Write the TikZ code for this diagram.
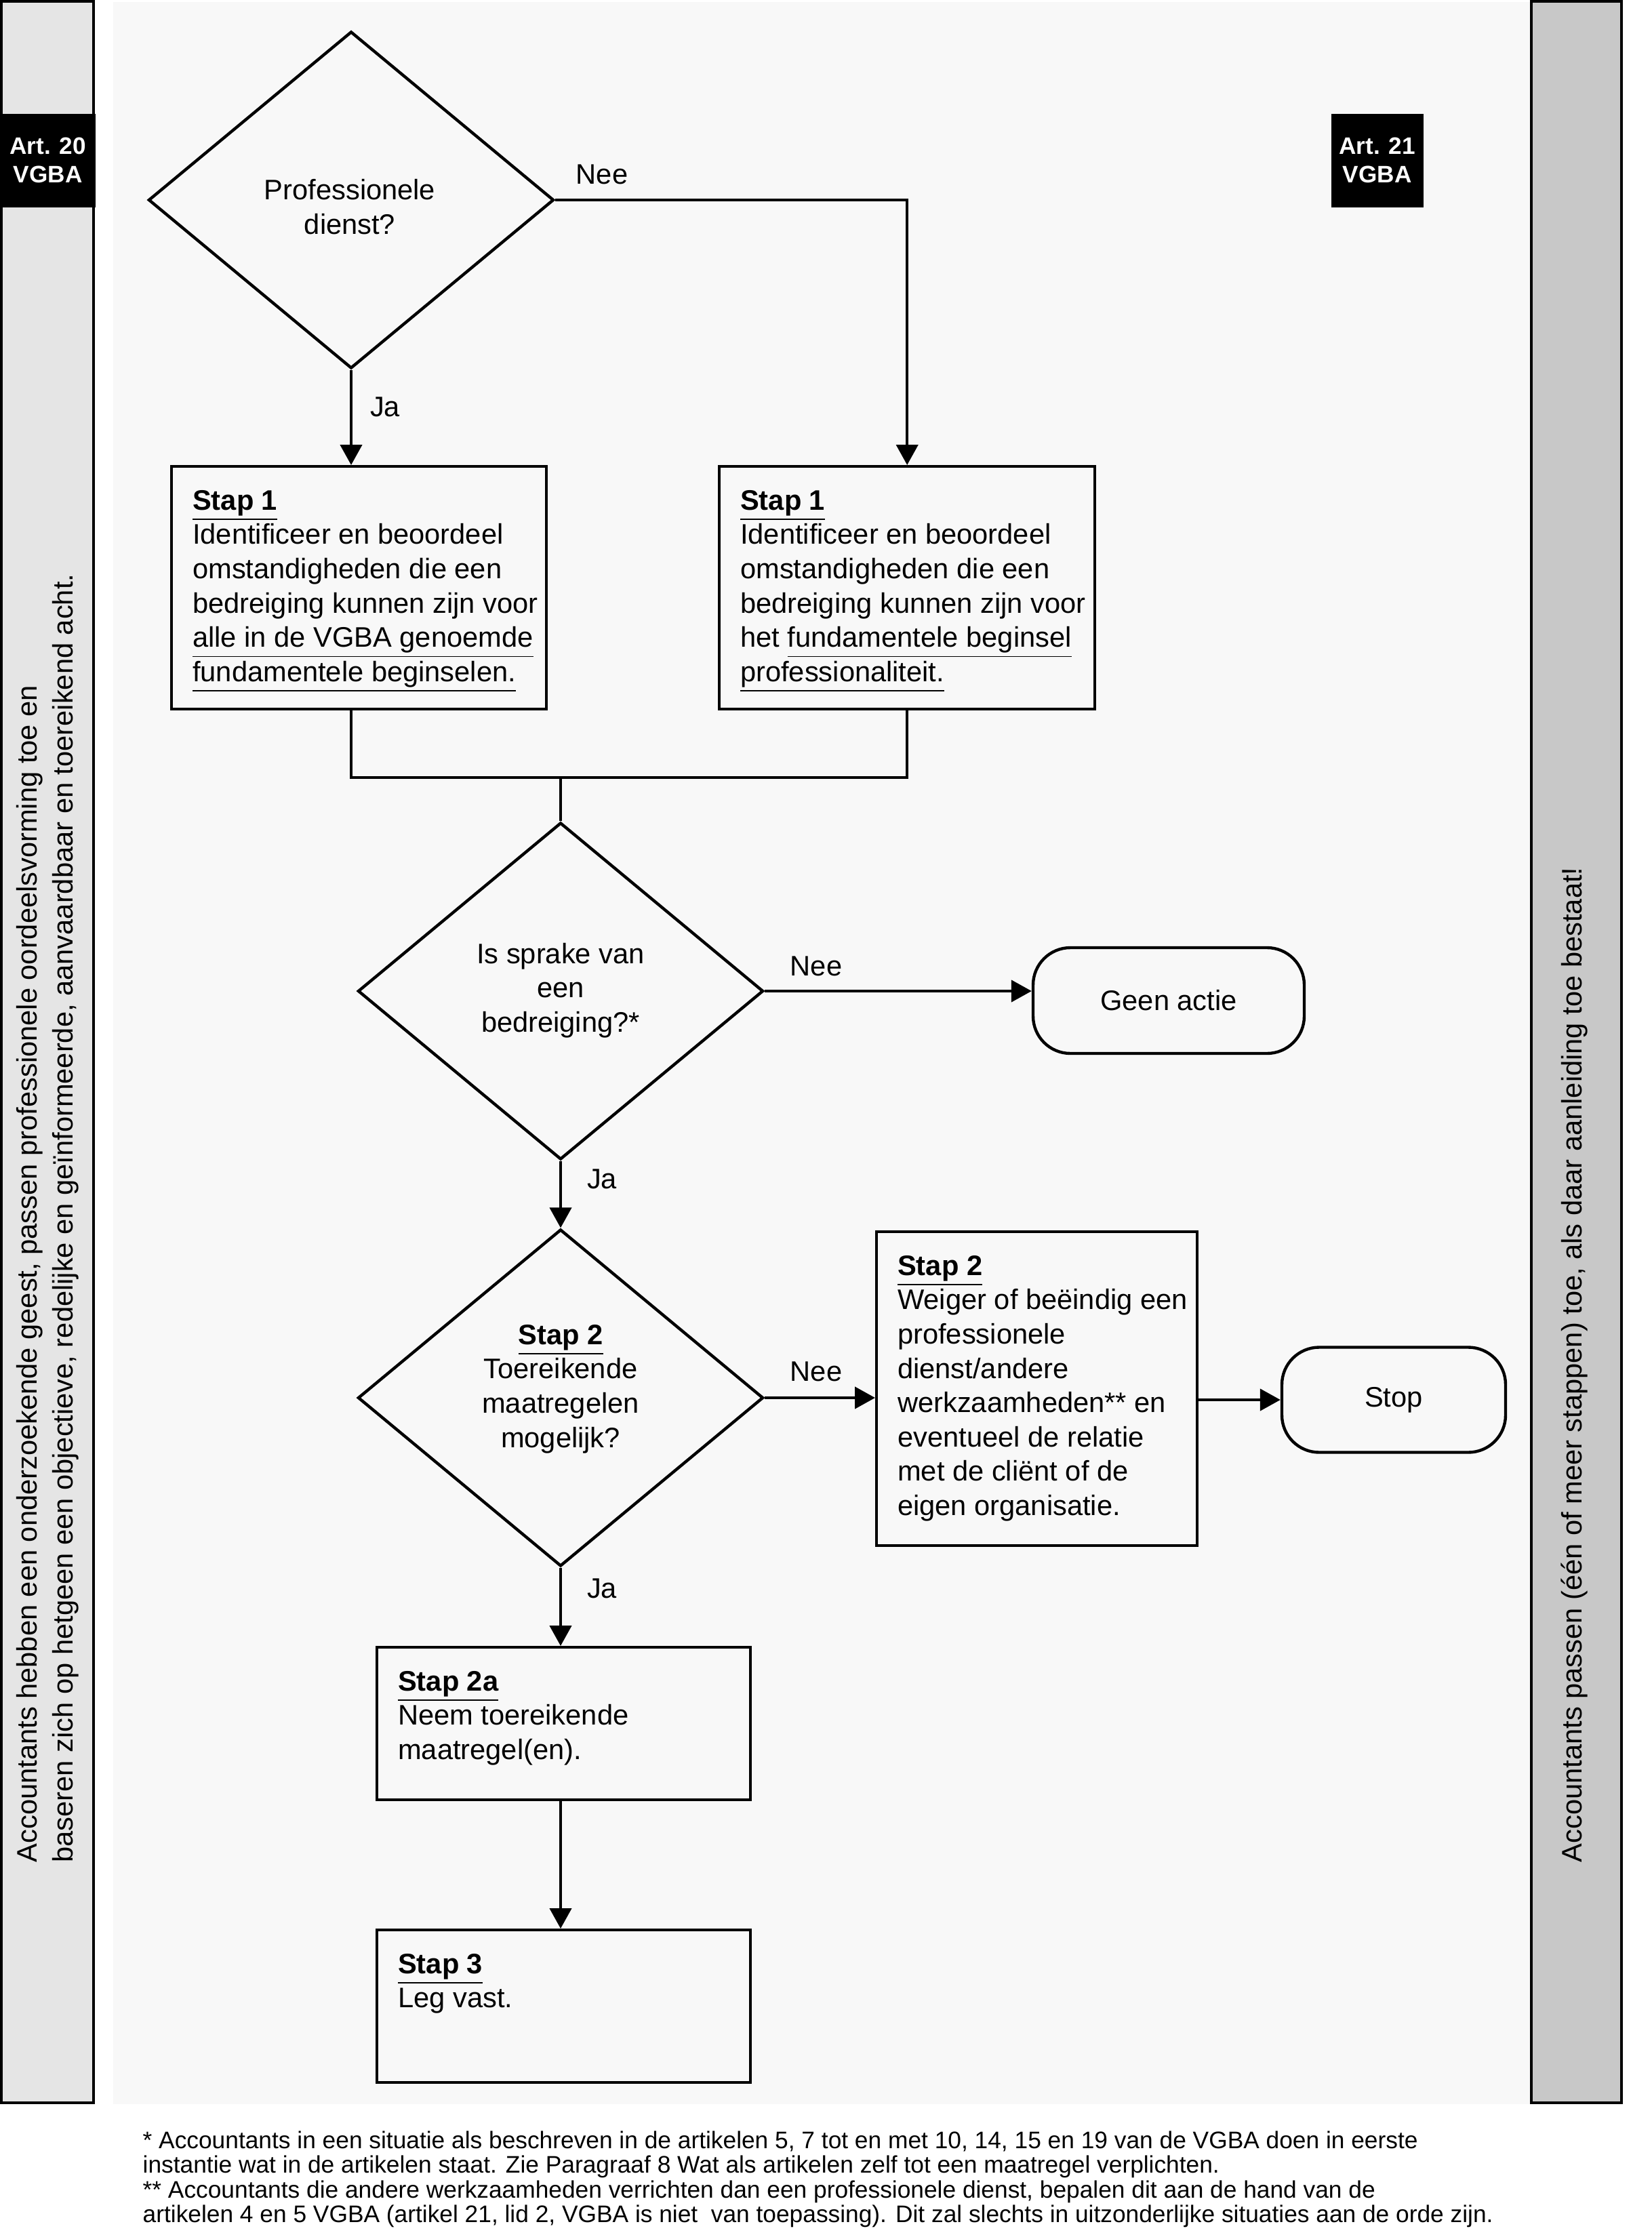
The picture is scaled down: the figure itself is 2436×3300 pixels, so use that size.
\documentclass[tikz,border=0pt]{standalone}
\usepackage{fontspec}
\setmainfont{Liberation Sans}
\usetikzlibrary{shapes.geometric,arrows.meta}
\definecolor{panelcol}{HTML}{F8F8F8}
\definecolor{lbarcol}{HTML}{E5E5E5}
\definecolor{rbarcol}{HTML}{C8C8C8}
\newcommand{\mainfs}{\fontsize{11.85}{14.4}\selectfont}
\newcommand{\barfs}{\fontsize{11.85}{15}\selectfont}
\newcommand{\artfs}{\fontsize{10}{12}\selectfont\bfseries}
\newcommand{\footfs}{\fontsize{10.05}{10.4}\selectfont}
\newcommand{\boxtext}[3]{\hspace*{3.1mm}\parbox[t][#1][t]{#2}{\mainfs\raggedright #3}}
\begin{document}
\begin{tikzpicture}[x=0.1mm,y=-0.1mm,
  lw/.style={line width=1.25pt},
  stepbox/.style={draw, lw, rectangle, anchor=north west, inner xsep=0pt, inner ysep=3.5mm},
  dec/.style={draw, lw, diamond, minimum width=59.8mm, minimum height=49.7mm, inner sep=0pt},
  dtext/.style={align=center, font=\mainfs, inner sep=0pt},
  term/.style={draw, lw, rectangle, rounded corners=5.5mm, font=\mainfs},
  arr/.style={lw, -{Triangle[length=3mm,width=3.2mm]}},
  con/.style={lw},
  lbl/.style={font=\mainfs, inner sep=0pt},
  art/.style={fill=black, text=white, font=\artfs, align=center, inner sep=0pt, anchor=north west},
  bartext/.style={rotate=90, anchor=west, align=left, font=\barfs, inner sep=0pt}
  ]
\useasboundingbox (0,0) rectangle (2436,3300);
\fill[white] (0,0) rectangle (2436,3300);
% panel and side bars
\fill[panelcol] (167,3) rectangle (2257,3104);
\filldraw[fill=lbarcol, line width=0.4mm] (2,2) rectangle (138,3102);
\filldraw[fill=rbarcol, line width=0.4mm] (2259,2) rectangle (2392,3102);
\node[art, minimum width=14mm, minimum height=13.8mm] (art20) at (0,167) {Art. 20\\VGBA};
\node[art, minimum width=13.6mm, minimum height=13.8mm] (art21) at (1963,167) {Art. 21\\VGBA};
\node[bartext] (ltext) at (70,2748) {Accountants hebben een onderzoekende geest, passen professionele oordeelsvorming toe en\\baseren zich op hetgeen een objectieve, redelijke en geïnformeerde, aanvaardbaar en toereikend acht.};
\node[bartext] (rtext) at (2322,2748) {Accountants passen (één of meer stappen) toe, als daar aanleiding toe bestaat!};
% decisions
\node[dec] (d1) at (518,295) {};
\node[dtext] (d1t) at (516,305) {Professionele\\dienst?};
\node[dec] (d2) at (827,1462) {};
\node[dtext] (d2t) at (827,1461) {Is sprake van\\een\\bedreiging?*};
\node[dec] (d3) at (827,2062) {};
\node[dtext] (d3t) at (827,2049) {\textbf{\underline{Stap 2}}\\Toereikende\\maatregelen\\mogelijk?};
% step boxes
\node[stepbox] (s1l) at (251,686) {\boxtext{28.8mm}{52.2mm}{\textbf{\underline{Stap 1}}\\Identificeer en beoordeel\\omstandigheden die een\\bedreiging kunnen zijn voor\\\underline{alle in de VGBA genoemde}\\\underline{fundamentele beginselen.}}};
\node[stepbox] (s1r) at (1059,686) {\boxtext{28.8mm}{52.3mm}{\textbf{\underline{Stap 1}}\\Identificeer en beoordeel\\omstandigheden die een\\bedreiging kunnen zijn voor\\het \underline{fundamentele beginsel}\\\underline{professionaliteit.}}};
\node[stepbox] (s2r) at (1291,1815) {\boxtext{39.3mm}{44.2mm}{\textbf{\underline{Stap 2}}\\Weiger of beëindig een\\professionele\\dienst/andere\\werkzaamheden** en\\eventueel de relatie\\met de cliënt of de\\eigen organisatie.}};
\node[stepbox] (s2a) at (554,2428) {\boxtext{15.5mm}{52.0mm}{\textbf{\underline{Stap 2a}}\\Neem toereikende\\maatregel(en).}};
\node[stepbox] (s3) at (554,2845) {\boxtext{15.5mm}{52.0mm}{\textbf{\underline{Stap 3}}\\Leg vast.}};
% terminals
\node[term, minimum width=40mm, minimum height=15.6mm] (geen) at (1724,1476) {Geen actie};
\node[term, minimum width=33mm, minimum height=15.5mm] (stop) at (2056,2065) {Stop};
% labels
\node[lbl] (nee1) at (888,257) {Nee};
\node[lbl] (ja1) at (568,600) {Ja};
\node[lbl] (nee2) at (1204,1425) {Nee};
\node[lbl] (ja2) at (888,1739) {Ja};
\node[lbl] (nee3) at (1204,2023) {Nee};
\node[lbl] (ja3) at (888,2343) {Ja};
% connectors
\coordinate (m) at (827,1147);
\draw[arr] (d1.south) -- (d1.south |- s1l.north);
\draw[arr] (d1.east) -| (s1r.north);
\draw[con] (d1.south |- s1l.south) -- (d1.south |- m) -- (s1r.south |- m) -- (s1r.south);
\draw[con] (m) -- (d2.north);
\draw[arr] (d2.east) -- (d2.east -| geen.west);
\draw[arr] (d2.south) -- (d3.north);
\draw[arr] (d3.east) -- (d3.east -| s2r.west);
\draw[arr] (s2r.east |- stop.west) -- (stop.west);
\draw[arr] (d3.south) -- (d3.south |- s2a.north);
\draw[arr] (d3.south |- s2a.south) -- (d3.south |- s3.north);
% footnote
\node[anchor=north west, align=left, font=\footfs, inner sep=0pt] (fn) at (210,3143) {* Accountants in een situatie als beschreven in de artikelen 5, 7 tot en met 10, 14, 15 en 19 van de VGBA doen in eerste\\instantie wat in de artikelen staat. Zie Paragraaf 8 Wat als artikelen zelf tot een maatregel verplichten.\\** Accountants die andere werkzaamheden verrichten dan een professionele dienst, bepalen dit aan de hand van de\\artikelen 4 en 5 VGBA (artikel 21, lid 2, VGBA is niet~ van toepassing). Dit zal slechts in uitzonderlijke situaties aan de orde zijn.};
\end{tikzpicture}
\end{document}
